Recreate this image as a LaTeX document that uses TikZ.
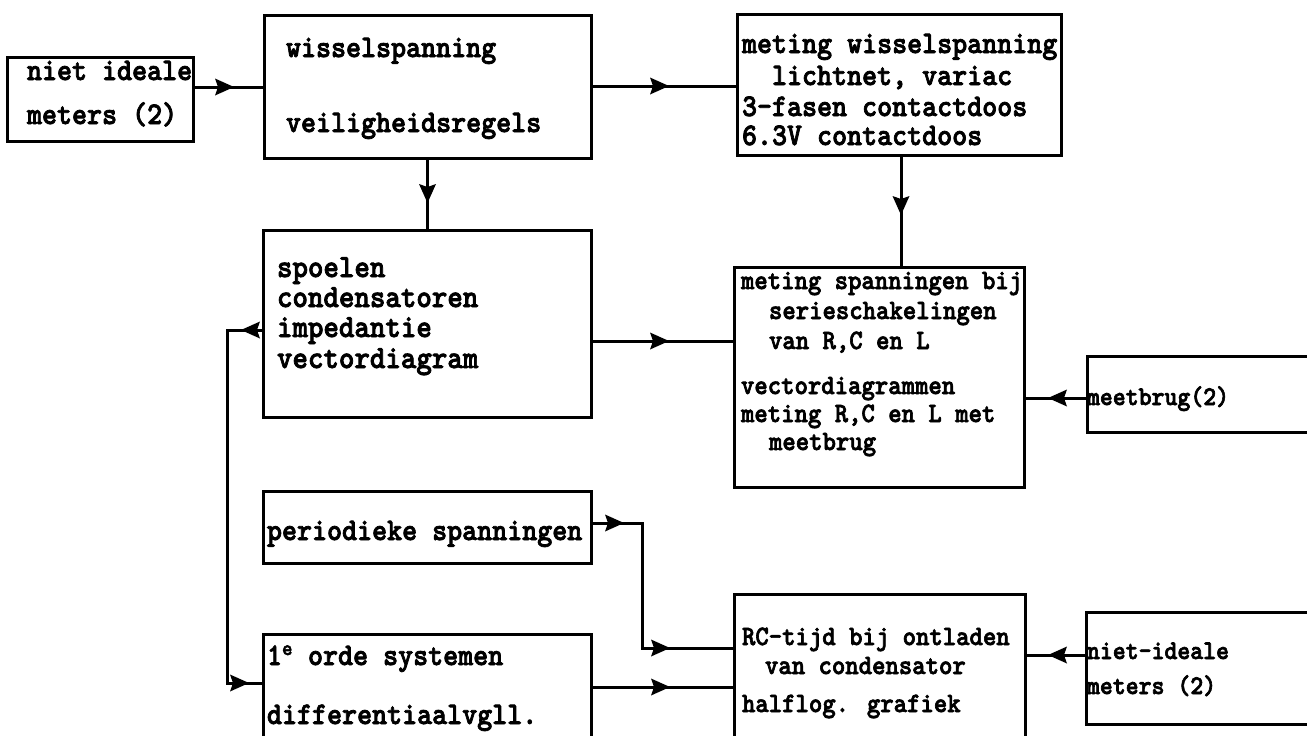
\documentclass[tikz,border=0pt]{standalone}
\usepackage{fontspec}
\newfontfamily\twfont[FakeBold=2.5]{lmmonolt10-bold.otf}
\usetikzlibrary{decorations.markings}

% typewriter lines, slightly stretched vertically
\newcommand\twline[1]{\scalebox{1}[1.1]{#1}}

\tikzset{
  box/.style={draw, line width=3pt, rectangle, inner sep=0pt, outer sep=0pt},
  txt/.style={anchor=base west, inner sep=0pt, outer sep=0pt,
              font=\twfont\fontsize{#1}{30}\selectfont},
  txt/.default=28.6,
  conn/.style={line width=3pt},
  tipat/.style={postaction={decorate, decoration={markings,
      mark=at position #1 with {\fill (2pt,0pt) -- (-17pt,8.5pt) -- (-14pt,0pt) -- (-17pt,-8.5pt) -- cycle;}}}},
}

\begin{document}
\begin{tikzpicture}[x=1pt,y=-1pt]
\useasboundingbox (0,0) rectangle (1307,736);
\clip (0,0) rectangle (1307,736);

% blocks
\node[box, minimum width=186pt, minimum height=84pt]  (A) at (100,99) {};
\node[box, minimum width=327pt, minimum height=143pt] (B) at (427.5,86.5) {};
\node[box, minimum width=324pt, minimum height=141pt] (C) at (899,84.5) {};
\node[box, minimum width=328pt, minimum height=187pt] (E) at (427,323.5) {};
\node[box, minimum width=290pt, minimum height=220pt] (D) at (879,377) {};
\node[box, minimum width=243pt, minimum height=76pt]  (M) at (1208.5,394) {};
\node[box, minimum width=328pt, minimum height=72pt]  (G) at (427,527) {};
\node[box, minimum width=328pt, minimum height=126pt] (F) at (427,697) {};
\node[box, minimum width=291pt, minimum height=166pt] (H) at (879.5,677) {};
\node[box, minimum width=244pt, minimum height=112pt] (N) at (1208,668) {};

% texts
\node[txt] (Aa) at (27,80)  {\twline{niet ideale}};
\node[txt] (Ab) at (27,124) {\twline{meters (2)}};

\node[txt] (Ba) at (286,57)  {\twline{wisselspanning}};
\node[txt] (Bb) at (286,132) {\twline{veiligheidsregels}};

\node[txt] (Ca) at (742,53)  {\twline{meting wisselspanning}};
\node[txt] (Cb) at (772,85)  {\twline{lichtnet, variac}};
\node[txt] (Cc) at (742,116) {\twline{3-fasen contactdoos}};
\node[txt] (Cd) at (742,145) {\twline{6.3V contactdoos}};

\node[txt=29.5] (Ea) at (277,277) {\twline{spoelen}};
\node[txt=29.5] (Eb) at (277,307) {\twline{condensatoren}};
\node[txt=29.5] (Ec) at (277,337) {\twline{impedantie}};
\node[txt=29.5] (Ed) at (277,368) {\twline{vectordiagram}};

\node[txt=25.5] (Da) at (741,289) {\twline{meting spanningen bij}};
\node[txt=25.5] (Db) at (769,319) {\twline{serieschakelingen}};
\node[txt=25.5] (Dc) at (769,349) {\twline{van R,C en L}};
\node[txt=25.5] (Dd) at (741,394) {\twline{vectordiagrammen}};
\node[txt=25.5] (De) at (741,422) {\twline{meting R,C en L met}};
\node[txt=25.5] (Df) at (769,450) {\twline{meetbrug}};

\node[txt=24.6] (Ma) at (1087,405) {\twline{meetbrug(2)}};

\node[txt] (Ga) at (267,540) {\twline{periodieke spanningen}};

\node[txt] (Fa) at (267,665) {\twline{1\textsuperscript{e} orde systemen}};
\node[txt] (Fb) at (267,724) {\twline{differentiaalvgll.}};

\node[txt=25.5] (Ha) at (742,645) {\twline{RC-tijd bij ontladen}};
\node[txt=25.5] (Hb) at (765,674) {\twline{van condensator}};
\node[txt=25.5] (Hc) at (742,712) {\twline{halflog. grafiek}};

\node[txt=24.6] (Na) at (1087,659) {\twline{niet-ideale}};
\node[txt=24.6] (Nb) at (1087,694) {\twline{meters (2)}};

% bend points of the routed connectors
\coordinate (loopx) at (227,0);
\coordinate (gbend) at (642,0);

% connectors
\draw[conn, tipat=39pt] (A.east |- 0,87) -- (B.west |- 0,87);
\draw[conn, tipat=76pt] (B.east |- 0,86) -- (C.west |- 0,86);
\draw[conn, tipat=43pt] (B.south) -- (B.south |- E.north);
\draw[conn, tipat=58pt] (C.south -| 901,0) -- (D.north -| 901,0);
\draw[conn, tipat=76pt] (E.east |- 0,341) -- (D.west |- 0,341);
\draw[conn, tipat=37pt] (M.west |- 0,398) -- (D.east |- 0,398);
\draw[conn, tipat=20pt, tipat=-16pt]
  (E.west |- 0,330) -- (loopx |- 0,330) -- (loopx |- 0,683) -- (F.west |- 0,683);
\draw[conn, tipat=31pt, tipat=-66pt]
  (G.east |- 0,523) -- (gbend |- 0,523) -- (gbend |- 0,648) -- (H.west |- 0,648);
\draw[conn, tipat=77pt] (F.east |- 0,687) -- (H.west |- 0,687);
\draw[conn, tipat=36pt] (N.west |- 0,655) -- (H.east |- 0,655);
\end{tikzpicture}
\end{document}
